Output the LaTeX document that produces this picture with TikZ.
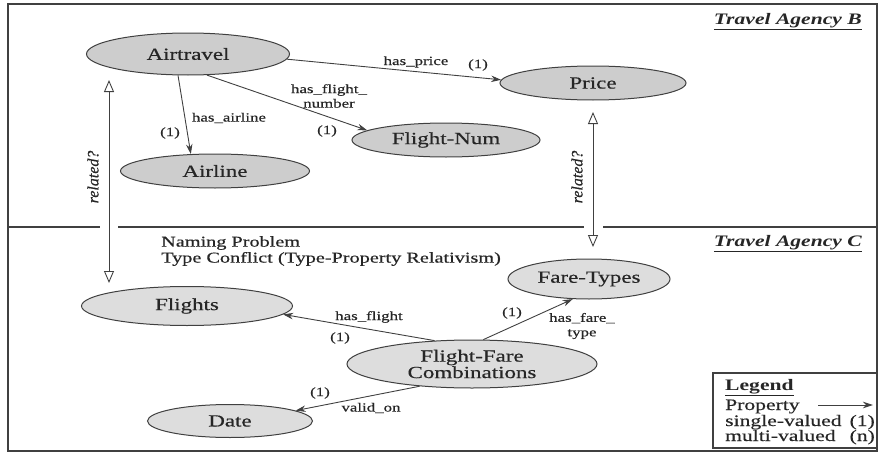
\documentclass[tikz,border=0pt]{standalone}
\usepackage{fontspec}
\setmainfont[FakeStretch=1.35, UprightFeatures={FakeBold=0.5}, ItalicFeatures={FakeBold=0.5}]{Liberation Serif}
\newfontfamily\rotfont[ItalicFeatures={FakeBold=0.5}]{Liberation Serif}
\usetikzlibrary{shapes.geometric,arrows.meta}
\definecolor{linec}{HTML}{404040}
\definecolor{textc}{HTML}{262626}
\definecolor{fillA}{HTML}{CDCDCD}
\definecolor{fillB}{HTML}{DDDDDD}
\begin{document}
\begin{tikzpicture}[x=1pt,y=-1pt,
  ent/.style={ellipse, draw=linec, line width=1pt, fill=fillA, inner sep=0pt, text=textc, font=\fontsize{17}{15}\selectfont},
  entc/.style={ent, fill=fillB},
  prop/.style={-{Stealth[length=10pt,width=6.5pt]}, draw=linec, line width=0.9pt},
  rel/.style={{Triangle[open,length=12pt,width=10pt]}-{Triangle[open,length=12pt,width=10pt]}, draw=linec, line width=0.9pt},
  lbl/.style={font=\fontsize{12.5}{14.5}\selectfont, inner sep=0pt, align=center, text=textc},
  lgd/.style={font=\fontsize{16}{16}\selectfont, inner sep=0pt, text=textc},
  hdr/.style={font=\fontsize{16}{18}\selectfont\bfseries\itshape, inner sep=0pt, text=textc, anchor=base east},
  frame/.style={draw=linec, line width=1.1pt},
  rlbl/.style={rotate=90, inner sep=0pt, text=textc, font=\rotfont\itshape\fontsize{16}{18}\selectfont}
]
\useasboundingbox (0,0) rectangle (879,455);
\draw[frame] (8,4) rectangle (877,451);
% divider
\draw[frame] (8,227) -- (100,227);
\draw[frame] (118,227) -- (584,227);
\draw[frame] (603,227) -- (877,227);

% headers
\node[hdr] (hB) at (862,24) {\underline{Travel Agency B}};
\node[hdr] (hC) at (862,246) {\underline{Travel Agency C}};

% entities B
\node[ent, minimum width=203pt, minimum height=42pt] (air) at (188,54) {Airtravel};
\node[ent, minimum width=189pt, minimum height=34pt] (airline) at (215,171) {Airline};
\node[ent, minimum width=188pt, minimum height=34pt] (fnum) at (446,140) {Flight-Num};
\node[ent, minimum width=186pt, minimum height=34pt] (price) at (593,83) {Price};
% entities C
\node[entc, minimum width=211pt, minimum height=39pt] (flights) at (187,306) {Flights};
\node[entc, minimum width=162pt, minimum height=40pt] (fare) at (589,279) {Fare-Types};
\node[entc, minimum width=250pt, minimum height=48pt, align=center] (ffc) at (472,364) {Flight-Fare\\Combinations};
\node[entc, minimum width=165pt, minimum height=33pt] (date) at (230,421) {Date};

% properties
\draw[prop] (air.-115) -- (airline.145);
\draw[prop] (air.-48) -- (fnum.173);
\draw[prop] (air.-3) -- (price.178);
\draw[prop] (ffc.148) -- (flights.-5);
\draw[prop] (ffc.65) -- (fare.-129);
\draw[prop] (ffc.-157) -- (date.9);

% property labels
\node[lbl] (t1) at (229,118) {has\_airline};
\node[lbl] (c1) at (170,133) {(1)};
\node[lbl] (t2) at (329,96) {has\_flight\_\\number};
\node[lbl] (c2) at (327,131) {(1)};
\node[lbl] (t3) at (416,62) {has\_price};
\node[lbl] (c3) at (478,65) {(1)};
\node[lbl] (t4) at (369,317) {has\_flight};
\node[lbl] (c4) at (340,338) {(1)};
\node[lbl] (c5) at (512,313) {(1)};
\node[lbl] (t5) at (582,326) {has\_fare\_\\type};
\node[lbl] (c6) at (320,393) {(1)};
\node[lbl] (t6) at (371,408) {valid\_on};

% related? arrows
\coordinate (rl1) at (109,80);
\coordinate (rl2) at (109,283);
\coordinate (rr1) at (593,112);
\coordinate (rr2) at (593,247);
\draw[rel] (rl1) -- (rl2);
\draw[rel] (rr1) -- (rr2);
\node[rlbl] (rlL) at (93,177) {related?};
\node[rlbl] (rlR) at (577,177) {related?};

% problem text
\node[anchor=north west, align=left, inner sep=0pt, text=textc, font=\fontsize{15}{16}\selectfont] (prob) at (161,236) {Naming Problem\\Type Conflict (Type-Property Relativism)};

% legend
\draw[frame] (713,373) rectangle (877,448);
\node[lgd, anchor=base west, font=\fontsize{16}{16}\selectfont\bfseries] (lg) at (725,390) {\underline{Legend}};
\node[lgd, anchor=base west] (lp) at (725,410) {Property};
\node[lgd, anchor=base west] (ls) at (725,426) {single-valued};
\node[lgd, anchor=base west] (lm) at (725,441) {multi-valued};
\node[lgd, anchor=base east] (ls1) at (875,426) {(1)};
\node[lgd, anchor=base east] (lmn) at (875,441) {(n)};
\coordinate (la1) at (818,405);
\coordinate (la2) at (873,405);
\draw[prop] (la1) -- (la2);
\end{tikzpicture}
\end{document}
